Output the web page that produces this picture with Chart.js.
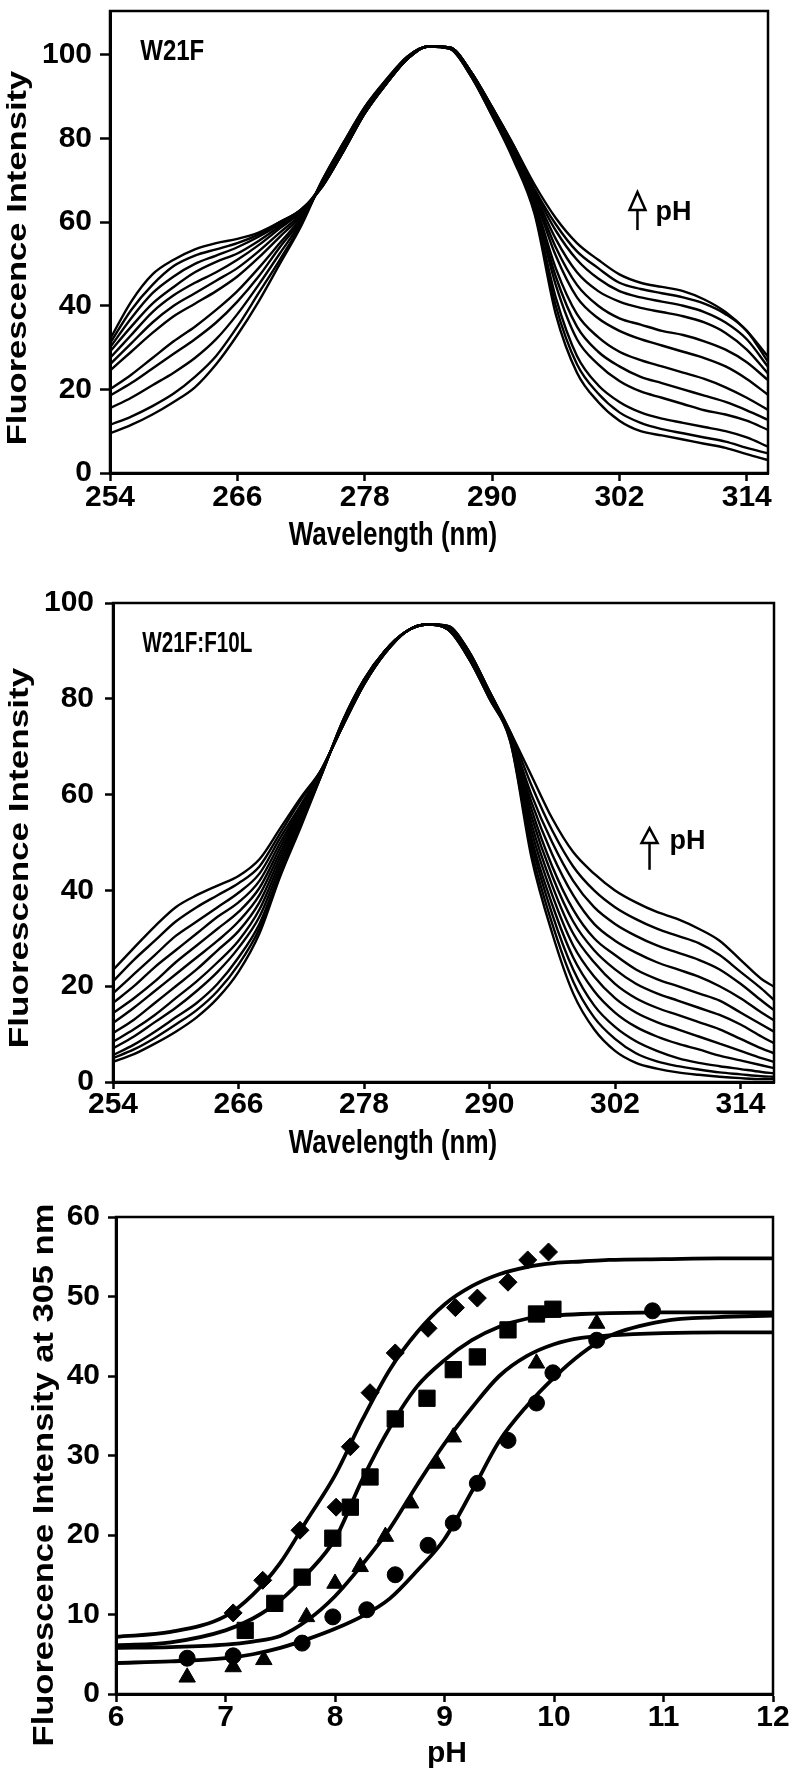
<!DOCTYPE html>
<html>
<head>
<meta charset="utf-8">
<script src="https://cdn.jsdelivr.net/npm/chart.js@4.4.1/dist/chart.umd.min.js"></script>
<style>
html, body { margin: 0; padding: 0; background: #fff; }
body { width: 791px; height: 1771px; position: relative; overflow: hidden; }
canvas { position: absolute; left: 0; }
</style>
</head>
<body>
<canvas id="c1" width="791" height="570" style="top:0px"></canvas>
<canvas id="c2" width="791" height="600" style="top:570px"></canvas>
<canvas id="c3" width="791" height="601" style="top:1170px"></canvas>
<script>
// ---- panel 1: W21F spectra (low pH -> high pH) ----
const wl1 = [254,256,258,260,262,264,266,268,270,272,274,276,278,280,282,284,286,288,290,292,294,296,298,300,302,304,306,308,310,312,314,316];
const w21f_c0  = [9.5, 11.5, 14, 17, 20.5, 26, 33, 41, 50, 59, 70, 79, 87.5, 94, 99.5, 102, 101.5, 95, 85.5, 75, 62, 38, 24, 17, 12.5, 10, 9, 8, 7, 6, 4.5, 3.1];
const w21f_c1  = [11.5, 13.5, 16, 19, 23, 28, 35, 43, 51, 59.5, 70, 79, 87.5, 94, 99.5, 102, 101.5, 95, 85.5, 75.5, 62.5, 40, 26, 19, 14.5, 12, 10.5, 9.5, 8.5, 7.5, 6, 4.7];
const w21f_c2  = [15.5, 18, 21, 24, 27.5, 32, 38, 45, 52.5, 60, 69.5, 78.5, 87, 93.5, 99.5, 102, 101.5, 95, 86, 76, 63, 42, 28, 21, 17, 14.5, 13, 12, 11, 10, 8.5, 6.3];
const w21f_c3  = [18.5, 21.5, 25, 28.5, 32, 36, 41, 47, 54, 60.5, 69.5, 78.5, 87, 93.5, 99.5, 102, 101.5, 95.5, 86, 76.5, 64, 45, 32, 26, 22, 19.5, 18, 16.5, 15, 14, 12.5, 10.3];
const w21f_c4  = [20, 23.5, 27.5, 31.5, 35, 39, 43.5, 49, 55, 61, 69.5, 78, 87, 93.5, 99.5, 102, 101.7, 95.5, 86.5, 77, 64.5, 47, 35, 29, 25.5, 23, 21.5, 20, 18.5, 17, 15, 12.7];
const w21f_c5  = [24.5, 29, 33.5, 37.5, 40.5, 43.5, 47, 51.5, 56.5, 61.5, 69, 78, 86.5, 93.5, 99, 102, 101.7, 95.5, 86.5, 77, 65, 49, 38, 32.5, 29, 27, 25.5, 24, 22.5, 20.5, 18, 15.1];
const w21f_c6  = [26, 31, 36, 40, 43, 46, 49, 53, 57.5, 62, 69, 77.5, 86.5, 93, 99, 102, 101.7, 95.5, 87, 77.5, 66, 52, 42, 37, 34, 32, 30.5, 29, 27.5, 25.5, 22.5, 18.7];
const w21f_c7  = [27.5, 33, 38.5, 42.5, 45.5, 48, 51, 54.5, 58.5, 62.5, 69, 77.5, 86.5, 93, 99, 102, 101.8, 96, 87, 77.5, 66.5, 54, 45, 40, 37, 35.5, 34, 33, 31.5, 29.5, 26.5, 22.2];
const w21f_c8  = [29, 35, 40.5, 44.5, 48, 50.5, 52.5, 55.5, 59, 62.5, 69, 77, 86, 93, 99, 102, 101.8, 96, 87, 78, 67, 56, 48, 43.5, 41, 39.5, 38.5, 37.5, 36, 33.5, 29.5, 23.8];
const w21f_c9  = [30, 37, 43, 47, 50, 52, 54, 56.5, 59.5, 63, 68.5, 77, 86, 93, 99, 102, 101.8, 96, 87.5, 78, 67.5, 58, 51, 46.5, 43.5, 42, 41, 40, 38.5, 36, 32, 25.4];
const w21f_c10 = [31, 39, 45, 49.5, 52, 53.5, 55, 57, 60, 63, 68.5, 77, 86, 93, 99, 102, 101.8, 96, 87.5, 78.5, 68, 59.5, 53, 49, 45.5, 44, 43, 42, 40.5, 38, 34, 26.6];
const w21f_c11 = [32, 41, 47.5, 51, 53.5, 55, 56, 57.5, 60, 63, 68.5, 77, 86, 93, 99, 102, 101.8, 96, 87.5, 78.5, 69, 61, 55, 51, 47.5, 45.5, 44.5, 43.5, 41.5, 38.5, 34, 27.8];

// ---- panel 2: W21F:F10L spectra ----
const wl2 = [254,256,258,260,262,264,266,268,270,272,274,276,278,280,282,284,286,288,290,292,294,296,298,300,302,304,306,308,310,312,314,316,317.2];
const f10l_c0  = [4.2, 5.8, 8, 10.5, 13.5, 17.5, 23, 31, 43, 53.5, 64.5, 75.5, 84, 90, 94, 95.5, 94.5, 88.5, 80, 71, 47, 31, 18.5, 11, 6.5, 4, 2.8, 2, 1.5, 1.1, 0.8, 0.6, 0.6];
const f10l_c1  = [5, 6.8, 9.2, 12, 15, 19, 24.5, 32, 43.5, 54, 64.5, 75.5, 84, 90, 94, 95.5, 94.5, 88.5, 80, 71, 48.5, 33, 21, 13.5, 9, 6, 4.3, 3.3, 2.6, 2, 1.6, 1.2, 1.1];
const f10l_c2  = [5.6, 7.8, 10.5, 13.5, 16.5, 20.5, 26, 33, 44, 54.5, 64.5, 75.5, 84, 90, 94, 95.5, 94.5, 88.5, 80.5, 71.5, 50, 35, 23.5, 16, 11.5, 8.5, 6.5, 5, 4, 3.3, 2.7, 2.1, 1.8];
const f10l_c3  = [7, 9.5, 12.5, 15.5, 19, 23, 28, 34.5, 45, 55, 65, 75, 83.5, 90, 94, 95.5, 94.5, 89, 80.5, 71.5, 51, 37, 26, 19, 14.5, 11.5, 9.5, 8, 6.8, 5.5, 4.5, 3.5, 2.9];
const f10l_c4  = [8.4, 11, 14, 17.5, 21, 25, 29.5, 36, 46, 55.5, 65, 75, 83.5, 90, 94, 95.5, 95, 89, 80.5, 72, 52.5, 39, 28.5, 22, 17.5, 14.5, 12.5, 11, 9.5, 8, 6.5, 5, 4.2];
const f10l_c5  = [10.2, 13, 16.5, 20, 23.5, 27.5, 31.5, 37.5, 47, 56, 65, 75, 83.5, 90, 94, 95.5, 95, 89, 81, 72, 54, 41, 31, 25, 20.5, 17.5, 15.5, 14, 12.5, 11, 9, 7, 6];
const f10l_c6  = [12.3, 15.5, 19, 22.5, 26, 29.5, 33.5, 39, 48, 56.5, 65, 75, 83.5, 90, 94, 95.5, 95, 89.5, 81, 72, 55.5, 43, 33.5, 27.5, 23.5, 20.5, 18.5, 17, 15.5, 14, 12, 9.5, 8.1];
const f10l_c7  = [14.4, 17.5, 21, 25, 28.5, 32, 35.5, 40.5, 49, 57, 65, 75, 83.5, 89.5, 94, 95.5, 95, 89.5, 81, 72.5, 57, 45, 36, 30, 26.5, 23.5, 21.5, 20, 18.5, 17, 14.5, 12, 10.5];
const f10l_c8  = [16.5, 20, 24, 27.5, 31, 34.5, 37.5, 42, 50, 57.5, 65.5, 74.5, 83, 89.5, 94, 95.5, 95, 89.5, 81, 72.5, 58.5, 47.5, 39, 33, 29.5, 27, 25, 23.5, 22, 20, 17.5, 14.5, 12.9];
const f10l_c9  = [18.5, 22.5, 26.5, 30.5, 33.5, 36.5, 39.5, 43.5, 51, 58, 65.5, 74.5, 83, 89.5, 94, 95.5, 95.2, 90, 81.5, 72.5, 60, 50, 42, 36.5, 33, 30.5, 28.5, 27, 25.5, 23.5, 20.5, 17, 15];
const f10l_c10 = [21, 25.5, 29.5, 33.5, 36.5, 39, 41.5, 45, 52, 59, 65.5, 74.5, 83, 89.5, 94, 95.5, 95.2, 90, 81.5, 73, 62, 52.5, 45, 40, 36.5, 34, 32, 30.5, 29, 26.5, 23, 19.5, 17.1];
const f10l_c11 = [23.4, 28, 32.5, 36.5, 39, 41, 43, 46.5, 53, 59.5, 65.5, 74.5, 83, 89.5, 94, 95.5, 95.2, 90, 81.5, 73, 64, 55, 48, 43.5, 40, 37.5, 35.5, 34, 32, 29.5, 25.5, 21.5, 19.9];

const wlTicks = [254, 266, 278, 290, 302, 314];
const intTicks1 = [0, 20, 40, 60, 80, 100];

// ---- panel 3: intensity at 305 nm vs pH ----
const phGrid = [6, 6.5, 7, 7.25, 7.5, 7.75, 8, 8.25, 8.5, 8.75, 9, 9.25, 9.5, 9.75, 10, 10.25, 10.5, 11, 11.5, 12];
const fitDiamond  = [7.2, 7.8, 9.8, 12.5, 16.5, 22, 27.5, 34.5, 40.8, 45.5, 49, 51.3, 52.8, 53.7, 54.2, 54.4, 54.6, 54.7, 54.8, 54.8];
const fitSquare   = [6.1, 6.5, 8, 9.5, 11.8, 15.2, 19.5, 27, 33.5, 38.7, 42, 44.5, 46.2, 47.2, 47.6, 47.8, 47.9, 48, 48, 48];
const fitTriangle = [5.8, 5.9, 6.2, 6.6, 7.3, 9.3, 12.3, 16.3, 20.8, 26.3, 31.5, 36, 40, 42.5, 44, 44.8, 45.1, 45.4, 45.5, 45.5];
const fitCircle   = [3.9, 4.1, 4.5, 5, 5.8, 6.9, 8.2, 9.8, 12, 15.5, 19.5, 25.5, 31.8, 36.2, 39.8, 42.8, 45, 46.9, 47.4, 47.6];

const phDiamond  = [7.07, 7.34, 7.68, 8.01, 8.14, 8.32, 8.55, 8.85, 9.10, 9.30, 9.58, 9.76, 9.95];
const valDiamond = [10.2, 14.3, 20.6, 23.5, 31.1, 37.9, 42.9, 46, 48.6, 49.8, 51.8, 54.6, 55.6];
const phSquare   = [7.18, 7.45, 7.70, 7.98, 8.14, 8.32, 8.55, 8.84, 9.08, 9.30, 9.58, 9.84, 9.99];
const valSquare  = [8.0, 11.4, 14.7, 19.6, 23.5, 27.3, 34.6, 37.2, 40.8, 42.4, 45.8, 47.8, 48.4];
const phTriangle  = [6.65, 7.07, 7.35, 7.74, 8.0, 8.23, 8.46, 8.69, 8.93, 9.08, 9.84, 10.39];
const valTriangle = [2.1, 3.4, 4.3, 9.7, 13.9, 16, 19.8, 24, 29, 32.3, 41.6, 46.6];
const phCircle  = [6.65, 7.07, 7.70, 7.98, 8.29, 8.55, 8.85, 9.08, 9.30, 9.58, 9.84, 9.99, 10.39, 10.9];
const valCircle = [4.5, 4.8, 6.4, 9.7, 10.6, 15, 18.7, 21.5, 26.5, 31.9, 36.6, 40.4, 44.5, 48.2];

const FONT = '"Liberation Sans", Arial, Helvetica, sans-serif';
Chart.defaults.font.family = FONT;
Chart.defaults.font.weight = 'bold';
Chart.defaults.color = '#000';

function spectra(wl, curves){
  return curves.map(vals => ({
    data: wl.map((x, i) => ({ x: x, y: vals[i] })),
    borderColor: '#000', borderWidth: 2.4, pointRadius: 0,
    cubicInterpolationMode: 'monotone', fill: false
  }));
}

function xy(xs, ys){ return xs.map((x, i) => ({ x: x, y: ys[i] })); }

// axis box on top/right
const framePlugin = {
  id: 'frame',
  afterDatasetsDraw(chart){
    const { ctx, chartArea: a } = chart;
    ctx.save();
    ctx.strokeStyle = '#000';
    ctx.lineWidth = 2.5;
    ctx.strokeRect(a.left, a.top, a.right - a.left, a.bottom - a.top);
    ctx.restore();
  }
};

// axis titles, drawn with the same squeeze the printed figure has
function titlesPlugin(items){
  return {
    id: 'titles',
    afterDraw(chart){
      const ctx = chart.ctx;
      items.forEach(t => {
        ctx.save();
        ctx.translate(t.x, t.y);
        if (t.vertical) ctx.rotate(-Math.PI / 2);
        ctx.scale(t.sx || 1, t.sy || 1);
        ctx.font = 'bold ' + t.size + 'px ' + FONT;
        ctx.textAlign = 'center';
        ctx.textBaseline = 'middle';
        ctx.fillStyle = '#000';
        ctx.fillText(t.text, 0, 0);
        ctx.restore();
      });
    }
  };
}

// panel label + hollow up-arrow with "pH"
function notesPlugin(n){
  return {
    id: 'notes',
    afterDraw(chart){
      const { ctx } = chart;
      const sx = chart.scales.x, sy = chart.scales.y;
      ctx.save();
      ctx.fillStyle = '#000';
      ctx.strokeStyle = '#000';
      ctx.textBaseline = 'middle';
      ctx.textAlign = 'left';
      ctx.font = 'bold ' + n.labelSize + 'px ' + FONT;
      ctx.save();
      ctx.translate(sx.getPixelForValue(n.labelAt[0]), sy.getPixelForValue(n.labelAt[1]));
      ctx.scale(n.labelSx, n.labelSy);
      ctx.fillText(n.label, 0, 0);
      ctx.restore();

      const ax = sx.getPixelForValue(n.arrowX);
      const at = sy.getPixelForValue(n.arrowTop);
      const ab = sy.getPixelForValue(n.arrowBase);
      const ae = sy.getPixelForValue(n.arrowEnd);
      ctx.lineWidth = 2.5;
      ctx.beginPath();
      ctx.moveTo(ax, ab);
      ctx.lineTo(ax, ae);
      ctx.stroke();
      ctx.beginPath();
      ctx.moveTo(ax, at);
      ctx.lineTo(ax - 8, ab);
      ctx.lineTo(ax + 8, ab);
      ctx.closePath();
      ctx.fillStyle = '#fff';
      ctx.fill();
      ctx.stroke();
      ctx.fillStyle = '#000';
      ctx.font = 'bold 27px ' + FONT;
      ctx.fillText('pH', sx.getPixelForValue(n.phAt[0]), sy.getPixelForValue(n.phAt[1]));
      ctx.restore();
    }
  };
}

function axisX(o){
  return {
    type: 'linear', min: o.min, max: o.max,
    afterBuildTicks: o.ticks ? (s => { s.ticks = o.ticks.map(v => ({ value: v })); }) : undefined,
    afterFit: s => { s.height = o.height; s.paddingLeft = 0; s.paddingRight = 0; },
    ticks: { font: { size: 30, weight: 'bold', lineHeight: 1 }, padding: o.tickPad, color: '#000', autoSkip: false, maxRotation: 0, stepSize: o.step },
    grid: { drawOnChartArea: false, drawTicks: true, tickLength: o.tickLen, tickWidth: 2.5, tickColor: '#000' },
    border: { display: true, width: 3, color: '#000' },
    title: { display: false }
  };
}

function axisY(o){
  return {
    type: 'linear', min: o.min, max: o.max,
    afterBuildTicks: o.ticks ? (s => { s.ticks = o.ticks.map(v => ({ value: v })); }) : undefined,
    afterFit: s => { s.width = o.width; s.paddingTop = 0; s.paddingBottom = 0; },
    ticks: { font: { size: 30, weight: 'bold', lineHeight: 1 }, padding: o.tickPad, color: '#000', autoSkip: false, stepSize: o.step },
    grid: { drawOnChartArea: false, drawTicks: true, tickLength: o.tickLen, tickWidth: 2.5, tickColor: '#000' },
    border: { display: true, width: 3, color: '#000' },
    title: { display: false }
  };
}

const baseOpts = {
  responsive: false, animation: false, devicePixelRatio: 1,
  plugins: { legend: { display: false }, tooltip: { enabled: false } }
};

new Chart(document.getElementById('c1'), {
  type: 'line',
  data: { datasets: spectra(wl1, [w21f_c0, w21f_c1, w21f_c2, w21f_c3, w21f_c4, w21f_c5, w21f_c6, w21f_c7, w21f_c8, w21f_c9, w21f_c10, w21f_c11]) },
  options: Object.assign({}, baseOpts, {
    layout: { padding: { top: 11, right: 23, left: 0, bottom: 0 } },
    scales: {
      x: axisX({ min: 254, max: 316, ticks: wlTicks, height: 97, tickPad: 2, tickLen: 8 }),
      y: axisY({ min: 0, max: 110.5, ticks: intTicks1, width: 110, tickPad: 8, tickLen: 10 })
    }
  }),
  plugins: [framePlugin,
    notesPlugin({ label: 'W21F', labelAt: [256.85, 100.7], labelSize: 24, labelSx: 1, labelSy: 1.2,
      arrowX: 303.7, arrowTop: 67.2, arrowBase: 62.9, arrowEnd: 58.1, phAt: [305.4, 62.4] }),
    titlesPlugin([
      { text: 'Wavelength (nm)', x: 393, y: 536, size: 26, sy: 1.25 },
      { text: 'Fluorescence Intensity', x: 18.5, y: 258, size: 27, sx: 1.28, vertical: true }
    ])]
});

new Chart(document.getElementById('c2'), {
  type: 'line',
  data: { datasets: spectra(wl2, [f10l_c0, f10l_c1, f10l_c2, f10l_c3, f10l_c4, f10l_c5, f10l_c6, f10l_c7, f10l_c8, f10l_c9, f10l_c10, f10l_c11]) },
  options: Object.assign({}, baseOpts, {
    layout: { padding: { top: 33, right: 17, left: 0, bottom: 0 } },
    scales: {
      x: axisX({ min: 254, max: 317.2, ticks: wlTicks, height: 88, tickPad: 1, tickLen: 7 }),
      y: axisY({ min: 0, max: 100, step: 20, width: 113, tickPad: 11, tickLen: 8 })
    }
  }),
  plugins: [framePlugin,
    notesPlugin({ label: 'W21F:F10L', labelAt: [256.8, 91.4], labelSize: 24, labelSx: 0.86, labelSy: 1.25,
      arrowX: 305.3, arrowTop: 53, arrowBase: 49.9, arrowEnd: 44.3, phAt: [307.2, 50.1] }),
    titlesPlugin([
      { text: 'Wavelength (nm)', x: 393, y: 574.5, size: 26, sy: 1.25 },
      { text: 'Fluorescence Intensity', x: 20.5, y: 288, size: 27, sx: 1.3, vertical: true }
    ])]
});

function fitLine(ys){
  return { type: 'line', data: xy(phGrid, ys), borderColor: '#000', borderWidth: 3.8, pointRadius: 0, cubicInterpolationMode: 'monotone', fill: false };
}
function marks(xs, ys, style, r){
  return { type: 'scatter', data: xy(xs, ys), showLine: false, pointStyle: style, pointRadius: r,
    backgroundColor: '#000', borderColor: '#000', pointBorderWidth: 1 };
}

new Chart(document.getElementById('c3'), {
  type: 'line',
  data: { datasets: [
    fitLine(fitDiamond), fitLine(fitSquare), fitLine(fitTriangle), fitLine(fitCircle),
    marks(phDiamond, valDiamond, 'rectRot', 9),
    marks(phSquare, valSquare, 'rect', 11.5),
    marks(phTriangle, valTriangle, 'triangle', 9.5),
    marks(phCircle, valCircle, 'circle', 8)
  ] },
  options: Object.assign({}, baseOpts, {
    layout: { padding: { top: 47, right: 18, left: 0, bottom: 0 } },
    scales: {
      x: axisX({ min: 6, max: 12, step: 1, height: 77, tickPad: 1, tickLen: 8 }),
      y: axisY({ min: 0, max: 60, step: 10, width: 116, tickPad: 8, tickLen: 8 })
    }
  }),
  plugins: [framePlugin,
    titlesPlugin([
      { text: 'pH', x: 447, y: 583.5, size: 30 },
      { text: 'Fluorescence Intensity at 305 nm', x: 45, y: 305, size: 29, sx: 1.19, vertical: true }
    ])]
});
</script>
</body>
</html>
